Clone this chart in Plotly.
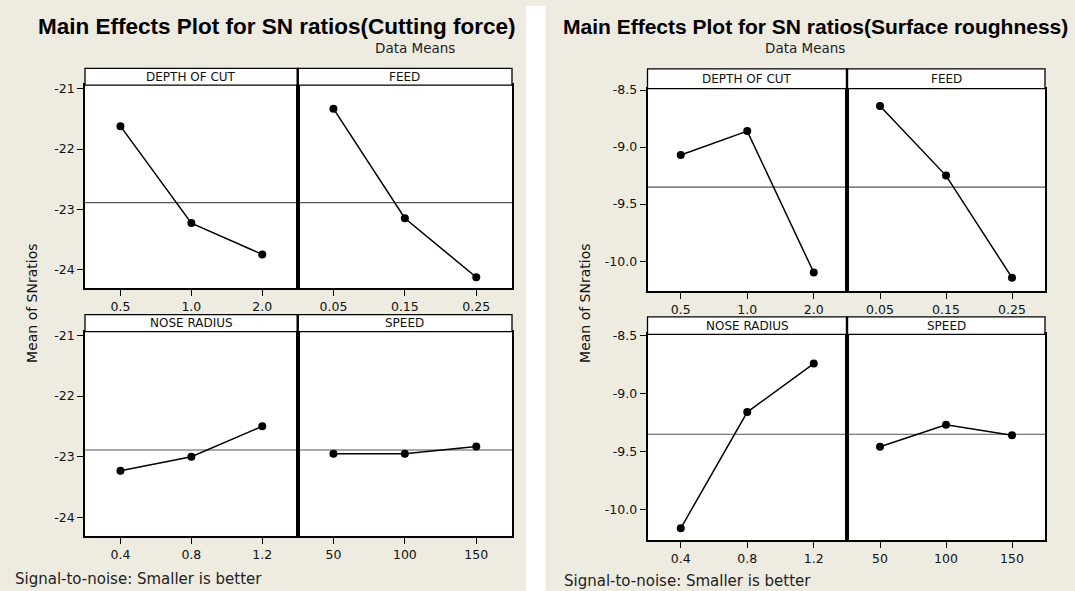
import numpy as np
import plotly.graph_objects as go

# ---------------- data ----------------
doc_levels = ["0.5", "1.0", "2.0"]
feed_levels = ["0.05", "0.15", "0.25"]
nose_levels = ["0.4", "0.8", "1.2"]
speed_levels = ["50", "100", "150"]

cf_doc = [-21.62, -23.23, -23.75]
cf_feed = [-21.33, -23.15, -24.13]
cf_nose = [-23.23, -23.00, -22.50]
cf_speed = [-22.95, -22.95, -22.83]

sr_doc = [-9.07, -8.86, -10.10]
sr_feed = [-8.64, -9.25, -10.145]
sr_nose = [-10.165, -9.16, -8.74]
sr_speed = [-9.46, -9.27, -9.36]

cf_yticks = [-21, -22, -23, -24]
cf_yticktext = ["-21", "-22", "-23", "-24"]
sr_yticks = [-8.5, -9.0, -9.5, -10.0]
sr_yticktext = ["-8.5", "-9.0", "-9.5", "-10.0"]

factor_names = ["DEPTH OF CUT", "FEED", "NOSE RADIUS", "SPEED"]
levels = [doc_levels, feed_levels, nose_levels, speed_levels]

titles = ["Main Effects Plot for SN ratios(Cutting force)",
          "Main Effects Plot for SN ratios(Surface roughness)"]
subtitle = "Data Means"
ylabel = "Mean of SNratios"
footer = "Signal-to-noise: Smaller is better"

# ---------------- layout helpers ----------------
W, H = 1075, 591
BEIGE = "#EEEBE1"


def px(x):
    return x / W


def py(y):
    return 1 - y / H


fig = go.Figure()

panels = [
    dict(x=[85, 297.7, 512],
         rows=[(63, 80, 285), (311.7, 329, 535.7)],
         yr=[-24.31, -20.94], series=[cf_doc, cf_feed, cf_nose, cf_speed],
         yt=cf_yticks, ytt=cf_yticktext),
    dict(x=[647.5, 847, 1045],
         rows=[(63.6, 83.4, 288.3), (314, 331.7, 539.3)],
         yr=[-10.265, -8.487], series=[sr_doc, sr_feed, sr_nose, sr_speed],
         yt=sr_yticks, ytt=sr_yticktext),
]

shapes = []
annotations = []
layout = {}
TICKFONT = dict(family="DejaVu Sans", size=12.5, color="#111111")

shapes.append(dict(type="rect", xref="paper", yref="paper", x0=px(526), x1=px(545.6),
                   y0=0, y1=1, fillcolor="white", line=dict(width=0), layer="below"))

k = 0
for p_i, p in enumerate(panels):
    allvals = np.concatenate([np.array(s) for s in p["series"]])
    grand_mean = float(np.mean(allvals))
    for r_i, (st, pt, pb) in enumerate(p["rows"]):
        for c_i in range(2):
            f_i = r_i * 2 + c_i
            k += 1
            xa = "xaxis" if k == 1 else f"xaxis{k}"
            ya = "yaxis" if k == 1 else f"yaxis{k}"
            xr = "x" if k == 1 else f"x{k}"
            yrr = "y" if k == 1 else f"y{k}"
            x0, x1 = p["x"][c_i], p["x"][c_i + 1]
            layout[xa] = dict(domain=[px(x0), px(x1)], anchor=yrr, range=[0.5, 3.5],
                              tickvals=[1, 2, 3], ticktext=levels[f_i],
                              ticks="outside", ticklen=6, tickwidth=1.2, tickcolor="black",
                              showline=True, mirror=True, linecolor="black", linewidth=1.6,
                              showgrid=False, zeroline=False, tickfont=TICKFONT, fixedrange=True)
            first = c_i == 0
            layout[ya] = dict(domain=[py(pb), py(pt)], anchor=xr, range=p["yr"],
                              tickvals=p["yt"], ticktext=p["ytt"],
                              showticklabels=first, ticks="outside" if first else "",
                              ticklen=6, tickwidth=1.2, tickcolor="black",
                              showline=True, mirror=True, linecolor="black", linewidth=1.6,
                              showgrid=False, zeroline=False, tickfont=TICKFONT, fixedrange=True)
            fig.add_trace(go.Scatter(x=[1, 2, 3], y=p["series"][f_i], xaxis=xr, yaxis=yrr,
                                     mode="lines+markers",
                                     line=dict(color="black", width=1.5),
                                     marker=dict(color="black", size=8),
                                     showlegend=False, hoverinfo="skip"))
            shapes.append(dict(type="line", xref=f"{xr} domain", yref=yrr, x0=0, x1=1,
                               y0=grand_mean, y1=grand_mean,
                               line=dict(color="#555555", width=1.2), layer="below"))
            shapes.append(dict(type="rect", xref="paper", yref="paper",
                               x0=px(x0), x1=px(x1), y0=py(pt), y1=py(st),
                               fillcolor="white", line=dict(color="black", width=1.3),
                               layer="above"))
            annotations.append(dict(xref="paper", yref="paper", x=px((x0 + x1) / 2),
                                    y=py((st + pt) / 2), text=factor_names[f_i],
                                    showarrow=False, xanchor="center", yanchor="middle",
                                    font=dict(family="DejaVu Sans", size=12, color="#111111")))
        # thick divider between the two panels of a row
        xd = p["x"][1]
        shapes.append(dict(type="line", xref="paper", yref="paper", x0=px(xd), x1=px(xd),
                           y0=py(pb), y1=py(st), line=dict(color="black", width=2.4),
                           layer="above"))

annotations += [
    dict(xref="paper", yref="paper", x=px(277), y=py(21), text=f"<b>{titles[0]}</b>",
         showarrow=False, xanchor="center", yanchor="middle",
         font=dict(family="Liberation Sans", size=22.5, color="black")),
    dict(xref="paper", yref="paper", x=px(561), y=py(21), text=f"<b>{titles[1]}</b>",
         showarrow=False, xanchor="left", yanchor="middle",
         font=dict(family="Liberation Sans", size=21, color="black")),
    dict(xref="paper", yref="paper", x=px(415), y=py(42), text=subtitle,
         showarrow=False, xanchor="center", yanchor="middle",
         font=dict(family="DejaVu Sans", size=13.5, color="#222222")),
    dict(xref="paper", yref="paper", x=px(805), y=py(42), text=subtitle,
         showarrow=False, xanchor="center", yanchor="middle",
         font=dict(family="DejaVu Sans", size=13.5, color="#222222")),
    dict(xref="paper", yref="paper", x=px(32), y=py(301), text=ylabel, textangle=-90,
         showarrow=False, xanchor="center", yanchor="middle",
         font=dict(family="DejaVu Sans", size=14, color="#111111")),
    dict(xref="paper", yref="paper", x=px(585), y=py(301), text=ylabel, textangle=-90,
         showarrow=False, xanchor="center", yanchor="middle",
         font=dict(family="DejaVu Sans", size=14, color="#111111")),
    dict(xref="paper", yref="paper", x=px(13), y=py(579), text=footer,
         showarrow=False, xanchor="left", yanchor="middle",
         font=dict(family="DejaVu Sans", size=15, color="#222222")),
    dict(xref="paper", yref="paper", x=px(562), y=py(581), text=footer,
         showarrow=False, xanchor="left", yanchor="middle",
         font=dict(family="DejaVu Sans", size=15, color="#222222")),
]

fig.update_layout(width=W, height=H, margin=dict(l=0, r=0, t=0, b=0),
                  paper_bgcolor=BEIGE, plot_bgcolor="white",
                  shapes=shapes, annotations=annotations, showlegend=False, **layout)

fig.write_html("out.html", config={"displayModeBar": False},
               post_script="document.body.style.margin='0px';"
                           "document.body.style.padding='0px';"
                           "document.body.style.overflow='hidden';")
